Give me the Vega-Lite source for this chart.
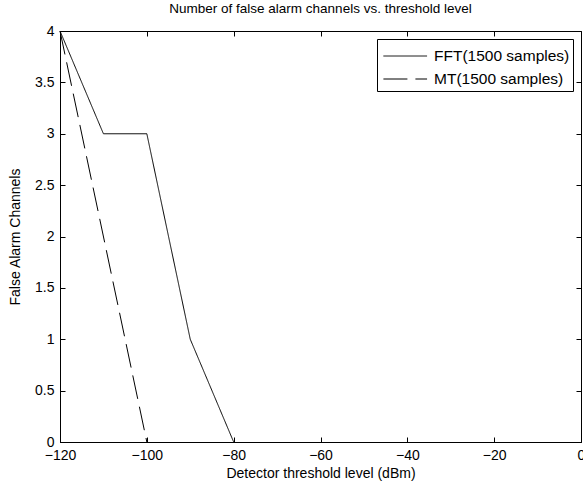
{
  "$schema": "https://vega.github.io/schema/vega-lite/v6.json",
  "autosize": "none",
  "width": 521,
  "height": 411,
  "padding": {"left": 60, "top": 31, "right": 2, "bottom": 45},
  "background": "white",
  "title": {"text": "Number of false alarm channels vs. threshold level", "font": "Liberation Sans", "fontSize": 13.5, "fontWeight": "normal", "color": "black", "offset": 9},
  "config": {
    "view": {"stroke": "black", "strokeWidth": 1},
    "font": "Liberation Sans",
    "axis": {"domainColor": "black", "tickColor": "black", "labelColor": "black", "titleColor": "black", "labelFont": "Liberation Sans", "labelFontSize": 14, "titleFont": "Liberation Sans", "titleFontSize": 14, "titleFontWeight": "normal", "grid": false, "tickSize": -5, "labelFlush": false, "labelOverlap": false}
  },
  "data": {"values": [
    {"x": -120, "y": 4, "s": "FFT(1500 samples)"},
    {"x": -110, "y": 3, "s": "FFT(1500 samples)"},
    {"x": -100, "y": 3, "s": "FFT(1500 samples)"},
    {"x": -90, "y": 1, "s": "FFT(1500 samples)"},
    {"x": -80, "y": 0, "s": "FFT(1500 samples)"},
    {"x": -120, "y": 4, "s": "MT(1500 samples)"},
    {"x": -100, "y": 0, "s": "MT(1500 samples)"}
  ]},
  "layer": [
    {
      "mark": {"type": "line", "color": "black", "strokeWidth": 1},
      "encoding": {
        "x": {"field": "x", "type": "quantitative", "scale": {"domain": [-120, 0], "nice": false, "zero": false}, "axis": {"values": [-120, -100, -80, -60, -40, -20, 0], "title": "Detector threshold level (dBm)", "titlePadding": 4, "labelPadding": 11, "labelFlush": false}},
        "y": {"field": "y", "type": "quantitative", "scale": {"domain": [0, 4], "nice": false}, "axis": {"values": [0, 0.5, 1, 1.5, 2, 2.5, 3, 3.5, 4], "format": "~g", "title": "False Alarm Channels", "titlePadding": 12, "labelPadding": 11}},
        "strokeDash": {"field": "s", "type": "nominal", "scale": {"domain": ["FFT(1500 samples)", "MT(1500 samples)"], "range": [[1, 0], [24, 8]]}, "legend": {"title": null, "orient": "top-right", "offset": 8, "strokeColor": "black", "fillColor": "white", "padding": 3, "symbolType": "M-0.8,0H2.5", "symbolSize": 700, "symbolStrokeColor": "black", "symbolFillColor": "transparent", "symbolStrokeWidth": 1, "labelFont": "Liberation Sans", "labelFontSize": 15.5, "labelColor": "black", "rowPadding": 0, "labelOffset": 26}},
        "detail": {"field": "s"}
      }
    },
    {
      "mark": {"type": "point", "opacity": 0},
      "encoding": {
        "x": {"field": "x", "type": "quantitative", "axis": {"orient": "top", "values": [-120, -100, -80, -60, -40, -20, 0], "labels": false, "title": null, "domain": false}},
        "y": {"field": "y", "type": "quantitative", "axis": {"orient": "right", "values": [0, 0.5, 1, 1.5, 2, 2.5, 3, 3.5, 4], "labels": false, "title": null, "domain": false}}
      }
    }
  ],
  "resolve": {"axis": {"x": "independent", "y": "independent"}}
}
